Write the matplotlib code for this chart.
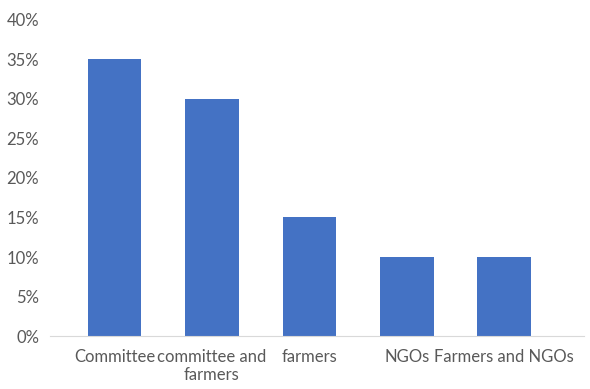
import matplotlib.pyplot as plt
import numpy as np
from matplotlib.ticker import PercentFormatter

categories = ["Committee", "committee and\nfarmers", "farmers", "NGOs", "Farmers and NGOs"]
shares = [35, 30, 15, 10, 10]  # percent
y_ticks = [0, 5, 10, 15, 20, 25, 30, 35, 40]


def main():
    plt.rcParams["font.family"] = ["Lato", "DejaVu Sans"]
    fig = plt.figure(figsize=(5.9, 3.89), dpi=100)
    ax = fig.add_axes([0.085, 0.136, 0.905, 0.813])

    xs = np.arange(len(categories))
    ax.bar(xs, shares, width=0.55, color="#4472C4")

    ax.set_xlim(-0.66, 4.82)
    ax.set_ylim(0, 40)
    ax.set_yticks(y_ticks)
    ax.yaxis.set_major_formatter(PercentFormatter(decimals=0))
    ax.set_xticks(xs)
    ax.set_xticklabels(categories, linespacing=1.15)

    for side in ("top", "right", "left"):
        ax.spines[side].set_visible(False)
    ax.spines["bottom"].set_color("#D9D9D9")
    ax.tick_params(length=0, colors="#595959", labelsize=12)
    ax.tick_params(axis="x", pad=9)
    ax.tick_params(axis="y", pad=8)

    fig.savefig("out.png", dpi=100)


if __name__ == "__main__":
    main()
